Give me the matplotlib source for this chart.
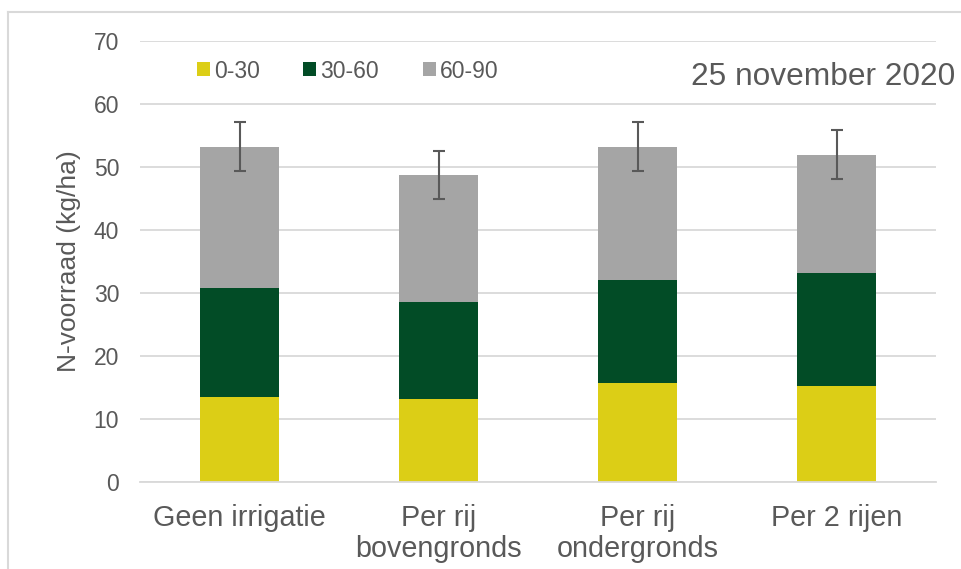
import numpy as np
import matplotlib
matplotlib.use('Agg')
import matplotlib.pyplot as plt
from matplotlib.lines import Line2D

plt.rcParams['font.family'] = ['Liberation Sans', 'DejaVu Sans']

categories = ['Geen irrigatie', 'Per rij\nbovengronds', 'Per rij\nondergronds', 'Per 2 rijen']
layer_0_30 = [13.5, 13.2, 15.7, 15.2]
layer_30_60 = [17.2, 15.3, 16.3, 17.9]
layer_60_90 = [22.5, 20.2, 21.2, 18.8]
errors = [3.85, 3.85, 3.85, 3.9]
series_names = ['0-30', '30-60', '60-90']
colors = ['#DCCE16', '#024C26', '#A5A5A5']

text_col = '#595959'
grid_col = '#D9D9D9'

fig = plt.figure(figsize=(9.61, 5.69), dpi=100)
ax = fig.add_axes([140/961, 1 - 481.7/569, 796/961, 441/569])

x = np.arange(len(categories))
width = 0.397
b1 = ax.bar(x, layer_0_30, width, color=colors[0], label=series_names[0], zorder=2)
b2 = ax.bar(x, layer_30_60, width, bottom=layer_0_30, color=colors[1], label=series_names[1], zorder=2)
bottom3 = np.array(layer_0_30) + np.array(layer_30_60)
b3 = ax.bar(x, layer_60_90, width, bottom=bottom3, color=colors[2], label=series_names[2], zorder=2)

totals = bottom3 + np.array(layer_60_90)
ax.errorbar(x, totals, yerr=errors, fmt='none', ecolor=text_col, elinewidth=1.5,
            capsize=4.5, capthick=1.5, zorder=3)

ax.set_xlim(-0.5, len(categories) - 0.5)
ax.set_ylim(0, 70)
ax.set_yticks(np.arange(0, 71, 10))
ax.set_xticks(x)
ax.set_xticklabels(categories, linespacing=1.12)
ax.yaxis.grid(True, color=grid_col, linewidth=1.3, zorder=0)
ax.set_axisbelow(True)
for s in ['top', 'right', 'left']:
    ax.spines[s].set_visible(False)
ax.spines['bottom'].set_color(grid_col)
ax.spines['bottom'].set_linewidth(1.3)
ax.tick_params(axis='y', length=0, pad=15, labelsize=16.5, labelcolor=text_col)
ax.tick_params(axis='x', length=0, pad=16, labelsize=20.7, labelcolor=text_col)
ax.set_ylabel('N-voorraad (kg/ha)', fontsize=19, color=text_col, labelpad=9)

leg = ax.legend(handles=[b1, b2, b3], loc='center left', ncol=3,
                bbox_to_anchor=(197/961, 1 - 71/569), bbox_transform=fig.transFigure,
                frameon=False, fontsize=16.5, handlelength=0.57, handleheight=0.57,
                handletextpad=0.17, columnspacing=1.9, borderpad=0, borderaxespad=0)
for t in leg.get_texts():
    t.set_color(text_col)

fig.text(955/961, 1 - 85/569, '25 november 2020', ha='right', va='baseline',
         fontsize=22.8, color=text_col)

# chart border (cut off at right and bottom)
fig.add_artist(Line2D([8/961, 8/961], [1 - 12/569, 0], transform=fig.transFigure,
                      color=grid_col, linewidth=1.5))
fig.add_artist(Line2D([8/961, 1], [1 - 12/569, 1 - 12/569], transform=fig.transFigure,
                      color=grid_col, linewidth=1.5))

fig.savefig('out.png', dpi=100)
